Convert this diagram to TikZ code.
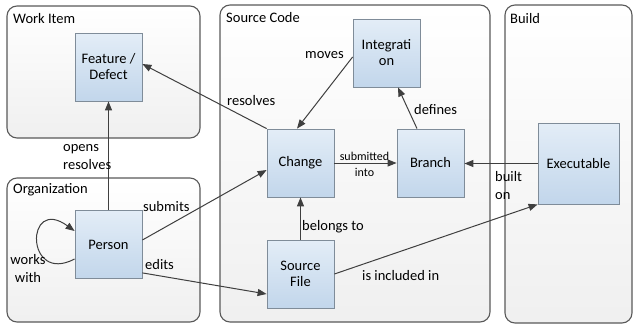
\documentclass[tikz,border=0pt]{standalone}
\usepackage{fontspec}
\setmainfont{Carlito}
\usetikzlibrary{arrows.meta}
\definecolor{frameline}{HTML}{595959}
\definecolor{boxline}{HTML}{7F8C99}
\definecolor{boxtop}{HTML}{E3EDF7}
\definecolor{boxbot}{HTML}{C2D6EB}
\definecolor{linkcol}{HTML}{3F3F3F}
\tikzset{
  group/.style={draw=frameline, line width=1.1pt, rounded corners=10pt,
    top color=white, bottom color=black!6},
  grouptitle/.style={anchor=west, inner sep=0pt, font=\fontsize{14.5}{16}\selectfont},
  entity/.style={draw=boxline, line width=0.8pt, top color=boxtop, bottom color=boxbot,
    minimum width=67pt, minimum height=68pt, inner sep=1pt, align=center,
    font=\fontsize{14.5}{16}\selectfont},
  link/.style={draw=linkcol, line width=1pt, -{Triangle[length=9pt,width=7pt]}},
  tag/.style={inner sep=0pt, align=left, font=\fontsize{14.5}{18}\selectfont},
  smalltag/.style={inner sep=0pt, align=center, font=\fontsize{12}{16}\selectfont},
}
\begin{document}
\begin{tikzpicture}[x=1pt,y=-1pt]
\useasboundingbox (0,0) rectangle (634,327);

% grouping frames
\path[group] (7,6) rectangle (200,138);
\path[group] (7,178) rectangle (200,322);
\path[group] (220,5) rectangle (490,322);
\path[group] (505,5) rectangle (632,323);
\node[grouptitle] (t1) at (13,19) {Work Item};
\node[grouptitle] (t2) at (13,190) {Organization};
\node[grouptitle] (t3) at (226,18) {Source Code};
\node[grouptitle] (t4) at (510,19) {Build};

% entities
\node[entity] (feature) at (108.5,67) {Feature /\\Defect};
\node[entity] (person) at (108.5,244.5) {Person};
\node[entity] (integ) at (386.5,53) {Integrati\\on};
\node[entity] (change) at (300.5,163) {Change};
\node[entity] (branch) at (430.5,163) {Branch};
\node[entity] (source) at (300.5,274) {Source\\File};
\node[entity, minimum width=81pt, minimum height=81pt] (exe) at (578.5,163.5) {Executable};

% relations
\draw[link] (person.north) -- (feature.south);
\draw[link] (change.north west) -- ([yshift=3pt]feature.east);
\draw[link] ([yshift=-4pt]integ.west) -- ([xshift=-3.5pt]change.north);
\draw[link] ([xshift=-13.5pt]branch.north) -- ([xshift=11.5pt]integ.south);
\draw[link] (change.east) -- (branch.east -| branch.west);
\draw[link] (exe.west) -- (exe.west -| branch.east);
\draw[link] ([yshift=4.5pt]person.east) -- ([yshift=-7pt]change.west);
\draw[link] ([yshift=6pt]person.south east) -- ([yshift=-20pt]source.west);
\draw[link] (source.east) -- (exe.south west);
\draw[link] (source.north) -- (change.south);
\draw[link] ([yshift=-14.5pt]person.west) .. controls (25,285) and (25,195) .. ([yshift=13.5pt]person.west);

% relation labels
\node[tag, anchor=west] (l1) at (63,157) {opens\\resolves};
\node[tag, anchor=west] (l2) at (227,101) {resolves};
\node[tag, anchor=west] (l3) at (305,55) {moves};
\node[tag, anchor=west] (l4) at (414,110) {defines};
\node[smalltag] (l5) at (364.5,164) {submitted\\into};
\node[tag, anchor=west] (l6) at (495,186) {built\\on};
\node[tag, anchor=west] (l7) at (143,207) {submits};
\node[tag, anchor=west] (l8) at (145,265) {edits};
\node[tag, align=center] (l9) at (28,269) {works\\with};
\node[tag, anchor=west] (l10) at (302,227) {belongs to};
\node[tag, anchor=west] (l11) at (362,276) {is included in};
\end{tikzpicture}
\end{document}
